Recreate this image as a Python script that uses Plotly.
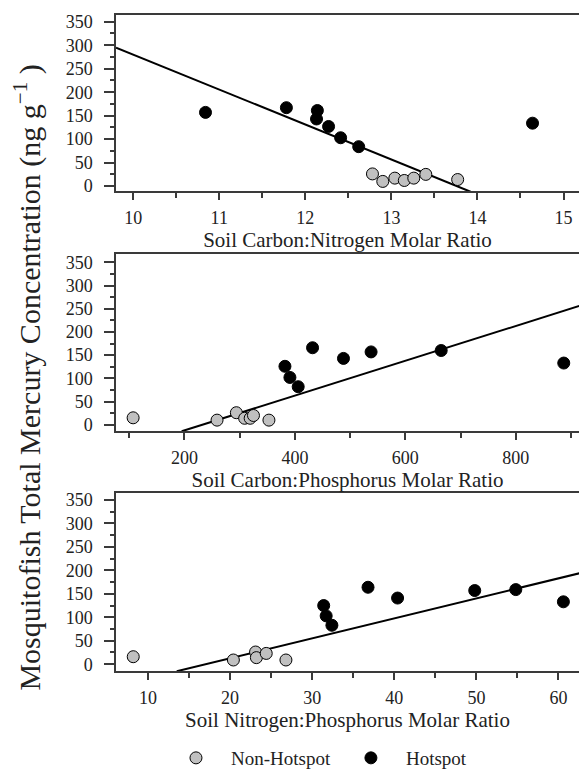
import plotly.graph_objects as go

# ---- data ----
# Panel 1: Soil C:N
cn_hot_x = [10.84, 11.78, 12.14, 12.13, 12.27, 12.41, 12.62, 14.64]
cn_hot_y = [157, 167, 161, 143, 127, 103, 84, 134]
cn_non_x = [12.78, 12.90, 13.04, 13.15, 13.26, 13.40, 13.77]
cn_non_y = [26, 10, 17, 12, 17, 25, 14]
cn_fit_x = [9.8, 13.92]
cn_fit_y = [295, -12]

# Panel 2: Soil C:P
cp_hot_x = [382, 391, 406, 432, 488, 538, 665, 887]
cp_hot_y = [126, 102, 82, 166, 143, 157, 160, 133]
cp_non_x = [107, 259, 294, 309, 319, 325, 353]
cp_non_y = [15, 10, 26, 14, 14, 20, 10]
cp_fit_x = [195, 915]
cp_fit_y = [-14, 256]

# Panel 3: Soil N:P
np_hot_x = [31.4, 31.7, 32.4, 36.8, 40.4, 49.8, 54.8, 60.6]
np_hot_y = [125, 103, 83, 164, 141, 157, 159, 133]
np_non_x = [8.2, 20.4, 23.1, 23.2, 24.4, 26.8]
np_non_y = [16, 9, 26, 14, 23, 9]
np_fit_x = [13.5, 62.6]
np_fit_y = [-15, 194]

x_titles = ["Soil Carbon:Nitrogen Molar Ratio",
            "Soil Carbon:Phosphorus Molar Ratio",
            "Soil Nitrogen:Phosphorus Molar Ratio"]
y_title = "Mosquitofish Total Mercury Concentration (ng g<sup>\u22121</sup> )"

FONT = "Liberation Serif, Times New Roman, serif"
GRAY = "#c0c0c0"
AX = "#3a3a3a"

fig = go.Figure()
panels = [
    (cn_hot_x, cn_hot_y, cn_non_x, cn_non_y, cn_fit_x, cn_fit_y),
    (cp_hot_x, cp_hot_y, cp_non_x, cp_non_y, cp_fit_x, cp_fit_y),
    (np_hot_x, np_hot_y, np_non_x, np_non_y, np_fit_x, np_fit_y),
]
for i, (hx, hy, nx, ny, fx, fy) in enumerate(panels):
    sfx = "" if i == 0 else str(i + 1)
    fig.add_trace(go.Scatter(x=fx, y=fy, mode="lines", line=dict(color="black", width=2),
                             showlegend=False, xaxis="x" + sfx, yaxis="y" + sfx, cliponaxis=True))
    fig.add_trace(go.Scatter(x=nx, y=ny, mode="markers", name="Non-Hotspot",
                             marker=dict(size=12, color=GRAY, line=dict(color="black", width=1)),
                             showlegend=(i == 0), xaxis="x" + sfx, yaxis="y" + sfx))
    fig.add_trace(go.Scatter(x=hx, y=hy, mode="markers", name="Hotspot",
                             marker=dict(size=12, color="black", line=dict(color="black", width=1)),
                             showlegend=(i == 0), xaxis="x" + sfx, yaxis="y" + sfx))

H = 777.0
ydomains = [[1 - 193 / H, 1 - 12 / H], [1 - 439 / H, 1 - 257.3 / H], [1 - 685 / H, 1 - 502.7 / H]]
xranges = [[9.80, 15.18], [76, 914.6], [6.1, 62.5]]
xdticks = [1, 200, 10]
yranges = [[-11, 365], [-14, 368], [-15, 364]]

layout = dict(
    width=579, height=777,
    margin=dict(l=116, r=0, t=0, b=0),
    paper_bgcolor="white", plot_bgcolor="white",
    font=dict(family=FONT, size=18, color="#222"),
    showlegend=True,
    legend=dict(orientation="h", x=0.433, xanchor="center", y=1 - 774 / H,
                yanchor="middle", font=dict(size=19, color="#222"), itemwidth=60,
                traceorder="normal", bgcolor="rgba(0,0,0,0)"),
)
for i in range(3):
    sfx = "" if i == 0 else str(i + 1)
    layout["xaxis" + sfx] = dict(
        domain=[0, 1], range=xranges[i], anchor="y" + sfx,
        showline=True, linecolor=AX, linewidth=1.5, mirror=True,
        ticks="outside", ticklen=7, tickcolor=AX, tickwidth=1.5,
        dtick=xdticks[i], tick0=0,
        minor=dict(ticks="outside", ticklen=5, tickcolor=AX, tickwidth=1.5, dtick=xdticks[i] / 2, tick0=0),
        showgrid=False, zeroline=False,
        tickfont=dict(size=18), ticklabelstandoff=2,
        title=dict(text=x_titles[i], font=dict(size=21), standoff=2),
    )
    layout["yaxis" + sfx] = dict(
        domain=ydomains[i], range=yranges[i], anchor="x" + sfx,
        showline=True, linecolor=AX, linewidth=1.5, mirror=False,
        ticks="outside", ticklen=10, tickcolor=AX, tickwidth=1.5,
        dtick=50, tick0=0,
        minor=dict(ticks="outside", ticklen=4, tickcolor=AX, tickwidth=1.5, dtick=25, tick0=0),
        showgrid=False, zeroline=False,
        tickfont=dict(size=18), ticklabelstandoff=8,
    )
fig.update_layout(**layout)
fig.add_annotation(text=y_title, xref="paper", yref="paper", x=(28 - 116) / 463.0, y=1 - 384 / H,
                   xanchor="center", yanchor="middle", textangle=-90, showarrow=False,
                   font=dict(size=30, family=FONT, color="#222"))
fig.write_html("out.html", config={"displayModeBar": False},
               post_script="document.body.style.margin='0px';document.body.style.overflow='hidden';")
